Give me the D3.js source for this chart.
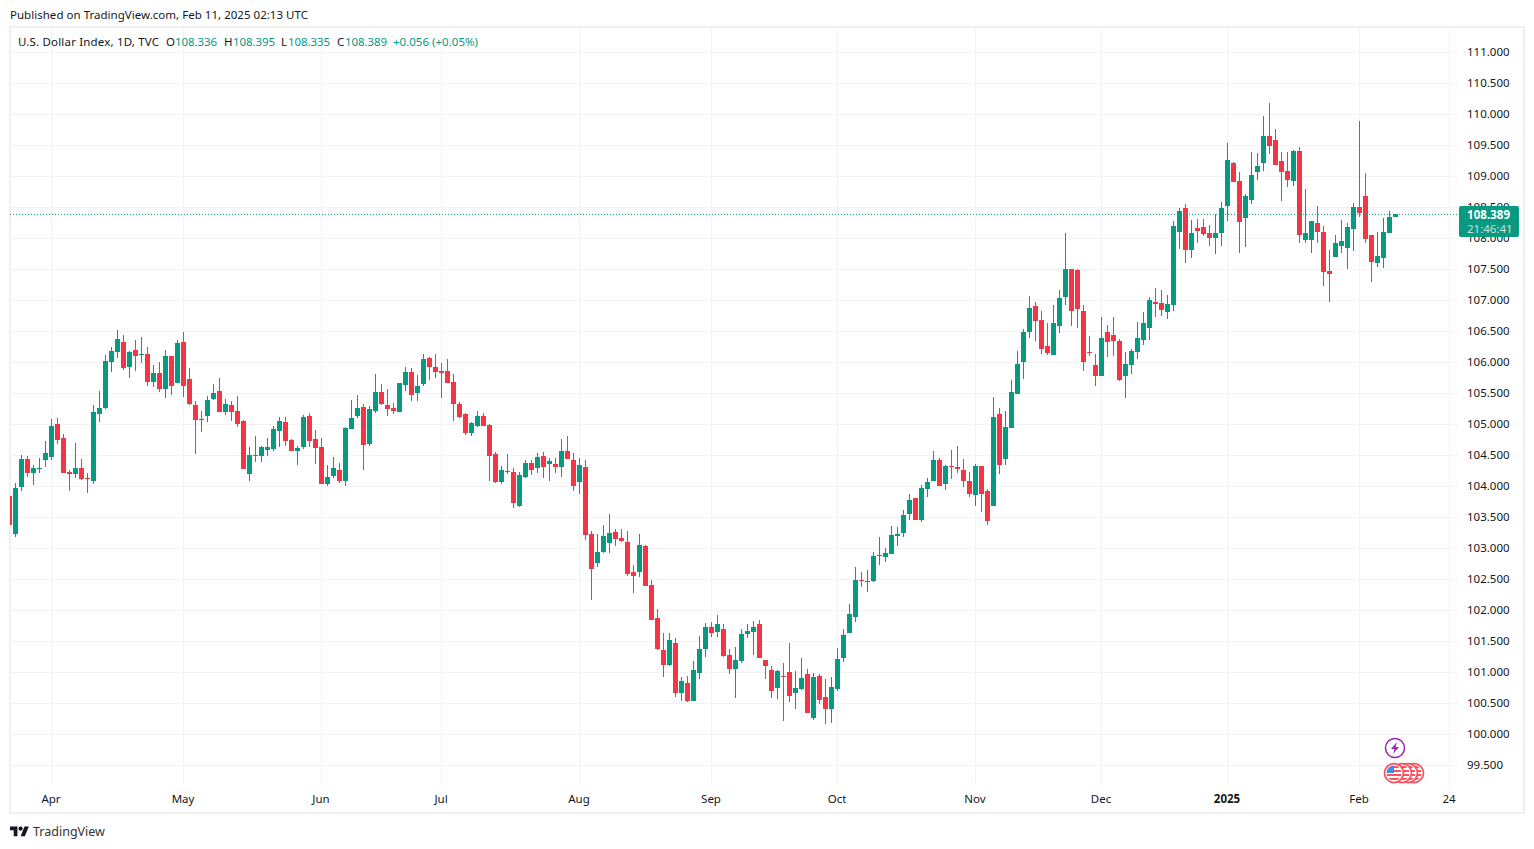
<!DOCTYPE html>
<html>
<head>
<meta charset="utf-8">
<script src="https://cdn.jsdelivr.net/npm/d3@7"></script>
<style>
  html, body { margin: 0; padding: 0; background: #fff; overflow: hidden; }
  text { font-family: "Noto Sans", sans-serif; font-size: 11.5px; fill: #131722; }
</style>
</head>
<body>
<div id="chart"></div>
<script>
// daily candles, trading day by trading day
const opens = [
  103.84,103.23,103.98,104.43,104.21,104.27,104.42,104.47,105.00,104.77,
  104.22,104.19,104.29,104.13,104.08,105.16,105.26,106.00,106.16,106.32,
  105.92,106.19,106.11,106.13,105.68,105.82,105.56,106.10,105.66,106.32,
  105.73,105.31,105.06,105.13,105.40,105.53,105.19,105.31,105.21,105.05,
  104.19,104.50,104.48,104.58,104.60,104.89,105.03,104.74,104.57,104.63,
  105.13,104.76,104.63,104.03,104.16,104.26,104.08,104.92,105.13,105.27,
  104.68,105.21,105.52,105.31,105.26,105.19,105.63,105.84,105.50,105.65,
  106.06,105.92,105.86,105.86,105.68,105.32,105.16,104.86,104.97,105.13,
  104.98,104.52,104.06,104.24,104.23,103.68,104.15,104.37,104.29,104.48,
  104.35,104.35,104.31,104.56,104.42,104.06,104.31,103.23,102.76,102.94,
  103.08,103.26,103.16,103.10,102.61,102.61,103.03,102.40,101.87,101.35,
  101.11,101.47,100.66,100.82,100.53,100.98,101.37,101.73,101.65,101.69,
  101.27,101.05,101.18,101.61,101.65,101.78,101.19,101.03,100.74,100.94,
  101.00,100.66,100.73,100.97,100.26,100.94,100.60,100.40,100.73,101.23,
  101.63,101.89,102.48,102.45,102.47,102.87,102.85,102.90,103.19,103.24,
  103.55,103.81,103.45,103.95,104.08,104.42,104.03,104.32,104.31,104.26,
  104.08,103.86,104.32,103.92,103.68,105.16,104.44,104.94,105.48,106.00,
  106.48,106.90,106.68,106.26,106.11,106.58,107.05,107.50,107.48,106.82,
  106.16,105.95,105.77,106.48,106.44,106.34,105.77,105.95,106.16,106.35,
  106.55,106.97,106.95,106.81,106.92,108.10,108.48,107.81,108.16,108.18,
  108.08,108.00,108.08,108.51,109.21,108.92,108.32,108.61,109.06,109.21,
  109.65,109.58,109.24,109.08,108.92,109.40,107.97,107.97,108.24,108.10,
  107.47,107.69,107.87,107.84,108.14,108.50,108.68,108.05,107.60,107.68,
  108.08,108.336
];
const highs = [
  103.90,104.05,104.50,104.48,104.34,104.45,104.72,105.08,105.10,104.84,
  104.26,104.69,104.43,104.21,105.31,105.53,106.11,106.24,106.52,106.44,
  106.18,106.35,106.40,106.24,105.95,106.00,106.19,106.10,106.35,106.48,
  105.90,105.37,105.21,105.45,105.64,105.74,105.40,105.37,105.45,105.06,
  104.63,104.81,104.65,104.77,104.97,105.11,105.11,104.76,104.65,105.14,
  105.18,104.90,104.77,104.34,104.47,104.37,104.95,105.39,105.47,105.32,
  105.29,105.81,105.64,105.56,105.34,105.66,105.92,105.90,105.79,106.13,
  106.08,106.13,105.98,106.05,105.81,105.355,105.18,105.03,105.21,105.18,
  105.00,104.55,104.32,104.52,104.29,104.23,104.42,104.42,104.53,104.55,
  104.45,104.45,104.76,104.81,104.53,104.45,104.42,103.27,103.23,103.37,
  103.55,103.31,103.31,103.27,102.73,103.23,103.05,102.48,102.02,101.63,
  101.63,101.55,100.92,100.94,101.18,101.58,101.79,101.81,101.92,101.77,
  101.37,101.40,101.69,101.77,101.82,101.84,101.19,101.10,101.03,101.15,
  101.47,101.02,101.23,101.05,100.98,100.97,100.89,100.92,101.39,101.69,
  102.10,102.69,102.61,102.65,102.94,103.18,103.00,103.36,103.34,103.61,
  103.87,103.81,104.02,104.13,104.56,104.45,104.34,104.58,104.645,104.44,
  104.23,104.35,104.32,103.95,105.44,105.26,105.21,105.71,106.18,106.53,
  107.06,106.97,106.82,106.63,106.92,107.16,108.08,107.50,107.50,106.92,
  106.42,106.13,106.73,106.60,106.73,106.37,106.16,106.21,106.64,106.81,
  107.05,107.19,107.16,107.08,108.27,108.48,108.55,108.29,108.31,108.31,
  108.21,108.39,108.58,109.53,109.23,109.06,108.71,109.39,109.37,109.97,
  110.18,109.76,109.39,109.39,109.42,109.47,108.79,108.27,108.51,108.19,
  107.81,108.05,108.29,108.24,108.56,109.89,109.05,108.05,108.10,108.32,
  108.43,108.395
];
const lows = [
  103.33,103.18,103.92,104.14,104.02,104.21,104.31,104.42,104.68,104.21,
  103.92,104.13,104.10,103.89,104.03,105.03,105.24,105.84,106.06,105.87,
  105.74,105.85,105.98,105.61,105.60,105.52,105.42,105.47,105.66,105.43,
  105.31,104.51,104.87,105.03,105.39,105.19,105.14,105.05,104.95,104.27,
  104.08,104.39,104.39,104.48,104.57,104.63,104.65,104.57,104.34,104.60,
  104.63,104.36,104.03,104.00,104.13,104.05,104.00,104.92,105.10,104.26,
  104.65,105.18,105.31,105.13,105.16,105.19,105.53,105.37,105.37,105.61,
  105.71,105.74,105.42,105.66,105.05,105.10,104.82,104.81,104.95,104.97,
  104.08,104.05,104.03,104.19,103.65,103.66,104.13,104.18,104.21,104.13,
  104.08,104.21,104.15,104.43,103.92,103.87,103.13,102.16,102.69,102.92,
  102.92,103.03,103.10,102.55,102.27,102.53,102.39,101.84,101.35,100.92,
  101.10,100.60,100.53,100.52,100.53,100.89,101.24,101.57,101.57,101.24,
  100.97,100.58,101.15,101.55,101.27,101.23,100.89,100.58,100.57,100.21,
  100.52,100.40,100.71,100.34,100.23,100.48,100.16,100.18,100.69,101.16,
  101.63,101.81,102.37,102.29,102.45,102.73,102.77,102.90,103.03,103.18,
  103.45,103.45,103.42,103.82,104.08,104.00,103.94,104.11,104.21,103.98,
  103.82,103.68,103.58,103.37,103.68,104.19,104.34,104.94,105.48,105.73,
  106.39,106.34,106.13,106.11,106.11,106.47,106.92,106.58,106.55,105.86,
  106.10,105.61,105.77,106.08,106.10,105.69,105.42,105.81,106.05,106.27,
  106.355,106.73,106.74,106.69,106.82,107.82,107.60,107.68,107.92,108.03,
  107.87,107.74,107.87,108.27,108.90,107.76,107.85,108.55,108.93,109.08,
  109.35,109.18,108.60,108.82,108.84,107.92,107.92,107.76,107.92,107.23,
  106.97,107.69,107.76,107.50,107.79,108.34,107.92,107.29,107.53,107.51,
  108.08,108.335
];
const closes = [
  103.37,103.97,104.43,104.21,104.29,104.29,104.53,104.97,104.74,104.21,
  104.19,104.29,104.11,104.11,105.19,105.26,106.02,106.18,106.37,105.90,
  106.16,106.10,106.13,105.68,105.82,105.56,106.10,105.61,106.31,105.61,
  105.32,105.06,105.08,105.39,105.50,105.19,105.32,105.19,105.00,104.27,
  104.50,104.48,104.63,104.63,104.92,105.05,104.73,104.57,104.61,105.11,
  104.73,104.61,104.03,104.15,104.29,104.08,104.94,105.10,105.26,104.66,
  105.24,105.52,105.32,105.24,105.21,105.66,105.84,105.47,105.61,106.05,
  105.92,105.84,105.82,105.66,105.32,105.11,104.86,105.02,105.13,104.97,
  104.48,104.06,104.26,104.23,103.73,104.18,104.37,104.26,104.47,104.31,
  104.40,104.31,104.56,104.43,104.00,104.34,103.21,102.66,102.94,103.19,
  103.24,103.15,103.11,102.58,102.55,103.05,102.39,101.84,101.37,101.11,
  101.52,100.66,100.85,100.53,101.03,101.37,101.73,101.63,101.77,101.26,
  101.05,101.19,101.61,101.66,101.73,101.23,101.10,100.69,101.02,100.92,
  100.61,100.74,100.90,100.34,100.92,100.55,100.40,100.76,101.21,101.60,
  101.94,102.48,102.47,102.47,102.87,102.89,102.92,103.21,103.23,103.53,
  103.77,103.45,103.97,104.07,104.42,104.00,104.32,104.31,104.27,104.08,
  103.87,104.32,103.87,103.44,105.11,104.34,104.95,105.52,105.97,106.48,
  106.87,106.66,106.21,106.15,106.63,107.03,107.50,106.82,106.855,106.00,
  106.15,105.77,106.39,106.32,106.34,105.71,105.97,106.18,106.39,106.63,
  107.00,106.93,106.84,106.93,108.20,108.43,107.81,108.08,108.11,108.06,
  108.00,108.08,108.48,109.26,108.90,108.26,108.68,109.02,109.16,109.65,
  109.48,109.18,109.06,108.93,109.40,108.05,108.08,108.27,108.10,107.45,
  107.42,107.92,107.95,108.18,108.50,108.40,107.98,107.61,107.71,108.10,
  108.34,108.389
];

const priceTicks = [111,110.5,110,109.5,109,108.5,108,107.5,107,106.5,106,105.5,105,104.5,
  104,103.5,103,102.5,102,101.5,101,100.5,100,99.5];
// month starts, as a position in the list of trading days
const timeTicks = [7,29,52,72,95,117,138,161,182,203,225,240];
const timeLabels = ['Apr','May','Jun','Jul','Aug','Sep','Oct','Nov','Dec','2025','Feb','24'];
const lastPrice = 108.389;

const GREEN = '#089981', RED = '#F23645', GRID = '#f3f3f3';

const width = 1534, height = 849;
const plot = {left: 10, right: 1458, top: 28, bottom: 785};

const svg = d3.select('#chart').append('svg')
  .attr('width', width).attr('height', height)
  .style('display', 'block');

// x runs over trading days, 6px per day
const x = d3.scaleLinear().domain([0, 240]).range([9.5, 1449.5]);
const y = d3.scaleLinear().domain([111, 99.5]).range([52, 765]);

svg.append('defs').append('clipPath').attr('id', 'plotclip')
  .append('rect')
  .attr('x', plot.left).attr('y', plot.top)
  .attr('width', plot.right - plot.left).attr('height', plot.bottom - plot.top);

// outer frame
svg.append('rect')
  .attr('x', 10).attr('y', 27).attr('width', 1514).attr('height', 786)
  .attr('fill', 'none').attr('stroke', '#f0f0f0').attr('stroke-width', 2);

// grid
const gridY = svg.append('g')
  .attr('transform', 'translate(' + plot.right + ',0)')
  .call(d3.axisLeft(y).tickValues(priceTicks).tickSize(plot.right - plot.left).tickFormat(''));
const gridX = svg.append('g')
  .attr('transform', 'translate(0,' + plot.bottom + ')')
  .call(d3.axisTop(x).offset(0).tickValues(timeTicks).tickSize(plot.bottom - plot.top).tickFormat(''));
gridY.select('.domain').remove();
gridX.select('.domain').remove();
svg.selectAll('.tick line').attr('stroke', GRID).attr('shape-rendering', 'crispEdges');

// candles
const days = d3.range(closes.length);
const colorOf = i => closes[i] >= opens[i] ? GREEN : RED;
const candles = svg.append('g').attr('clip-path', 'url(#plotclip)');

candles.selectAll('.wick').data(days).enter().append('rect')
  .attr('class', 'wick')
  .attr('x', i => x(i) - 0.5)
  .attr('width', 1)
  .attr('y', i => Math.round(y(highs[i])))
  .attr('height', i => Math.max(1, Math.round(y(lows[i])) - Math.round(y(highs[i]))))
  .attr('fill', colorOf)
  .attr('shape-rendering', 'crispEdges');

candles.selectAll('.body').data(days).enter().append('rect')
  .attr('class', 'body')
  .attr('x', i => x(i) - 2.5)
  .attr('width', 5)
  .attr('y', i => Math.round(y(Math.max(opens[i], closes[i]))))
  .attr('height', i => Math.max(1, Math.round(y(Math.min(opens[i], closes[i]))) - Math.round(y(Math.max(opens[i], closes[i])))))
  .attr('fill', colorOf)
  .attr('shape-rendering', 'crispEdges');

// last price line
svg.append('line')
  .attr('x1', plot.left).attr('x2', 1459)
  .attr('y1', y(lastPrice) + 0.5).attr('y2', y(lastPrice) + 0.5)
  .attr('stroke', GREEN).attr('stroke-width', 1).attr('stroke-dasharray', '1 2');

// axes
const axisRight = svg.append('g')
  .attr('transform', 'translate(1467,0)')
  .call(d3.axisRight(y).tickValues(priceTicks).tickSize(0).tickPadding(0).tickFormat(d3.format('.3f')));
axisRight.select('.domain').remove();

const axisBottom = svg.append('g')
  .attr('transform', 'translate(-0.5,795)')
  .call(d3.axisBottom(x).offset(0).tickValues(timeTicks).tickSize(0).tickPadding(0).tickFormat((d, i) => timeLabels[i]));
axisBottom.select('.domain').remove();

svg.selectAll('.tick text')
  .style('font-family', '"Noto Sans", sans-serif')
  .style('font-size', '11.5px')
  .attr('fill', '#131722');
axisBottom.selectAll('.tick text').filter((d, i) => timeLabels[i] === '2025').style('font-weight', 'bold');

// price badge on the right
svg.append('rect')
  .attr('x', 1459).attr('y', 206).attr('width', 60).attr('height', 31).attr('rx', 2)
  .attr('fill', GREEN);
svg.append('text').attr('x', 1467).attr('y', 219)
  .style('fill', '#fff').style('font-weight', 'bold').attr('textLength', 43).text('108.389');
svg.append('text').attr('x', 1467).attr('y', 233)
  .style('fill', '#fff').style('opacity', 0.75).text('21:46:41');

// header texts
svg.append('text').attr('x', 10).attr('y', 19).attr('textLength', 298)
  .text('Published on TradingView.com, Feb 11, 2025 02:13 UTC');

const legend = svg.append('g');
const legendBits = [
  ['U.S. Dollar Index, 1D, TVC', 18, '#131722', 141],
  ['O', 166, '#131722'], ['108.336', 175, GREEN, 42],
  ['H', 224, '#131722'], ['108.395', 233, GREEN, 42],
  ['L', 281, '#131722'], ['108.335', 288, GREEN, 42],
  ['C', 337, '#131722'], ['108.389', 345, GREEN, 42],
  ['+0.056 (+0.05%)', 393, GREEN, 85]
];
legend.selectAll('text').data(legendBits).enter().append('text')
  .attr('x', d => d[1]).attr('y', 46)
  .attr('textLength', d => d[3] || null)
  .style('fill', d => d[2])
  .text(d => d[0]);

// event icons at the bottom right
const bolt = svg.append('g').attr('transform', 'translate(1395,748)');
bolt.append('circle').attr('r', 9.5).attr('fill', '#fff').attr('stroke', '#9c27b0').attr('stroke-width', 1.5);
bolt.append('path').attr('d', 'M2,-6 L-4,1 L-0.5,1 L-2,6 L4,-1 L0.5,-1 Z').attr('fill', '#9c27b0');

const flagX = [1414, 1408, 1402, 1394];
flagX.forEach(function(cx, n) {
  const g = svg.append('g').attr('transform', 'translate(' + cx + ',773)');
  g.append('circle').attr('r', 9.5).attr('fill', '#fff').attr('stroke', '#f7525f').attr('stroke-width', 1.75);
  const id = 'flag' + n;
  g.append('clipPath').attr('id', id).append('circle').attr('r', 7.5);
  const f = g.append('g').attr('clip-path', 'url(#' + id + ')');
  [-7, -3, 1, 5].forEach(function(sy) {
    f.append('rect').attr('x', -8).attr('y', sy).attr('width', 16).attr('height', 2).attr('fill', '#f7525f');
  });
  f.append('rect').attr('x', -8).attr('y', -8).attr('width', 8).attr('height', 8).attr('fill', '#3d8ee8');
});

// TradingView logo
const logo = svg.append('g').attr('transform', 'translate(10,824.5) scale(0.53)');
logo.append('path').attr('d', 'M14 22H7V11H0V4h14v18zM28 22h-8l7.5-18h8L28 22z').attr('fill', '#131722');
logo.append('circle').attr('cx', 20).attr('cy', 8).attr('r', 4).attr('fill', '#131722');
svg.append('text').attr('x', 33).attr('y', 836)
  .style('font-size', '12.5px').style('fill', '#333')
  .text('TradingView');
</script>
</body>
</html>
